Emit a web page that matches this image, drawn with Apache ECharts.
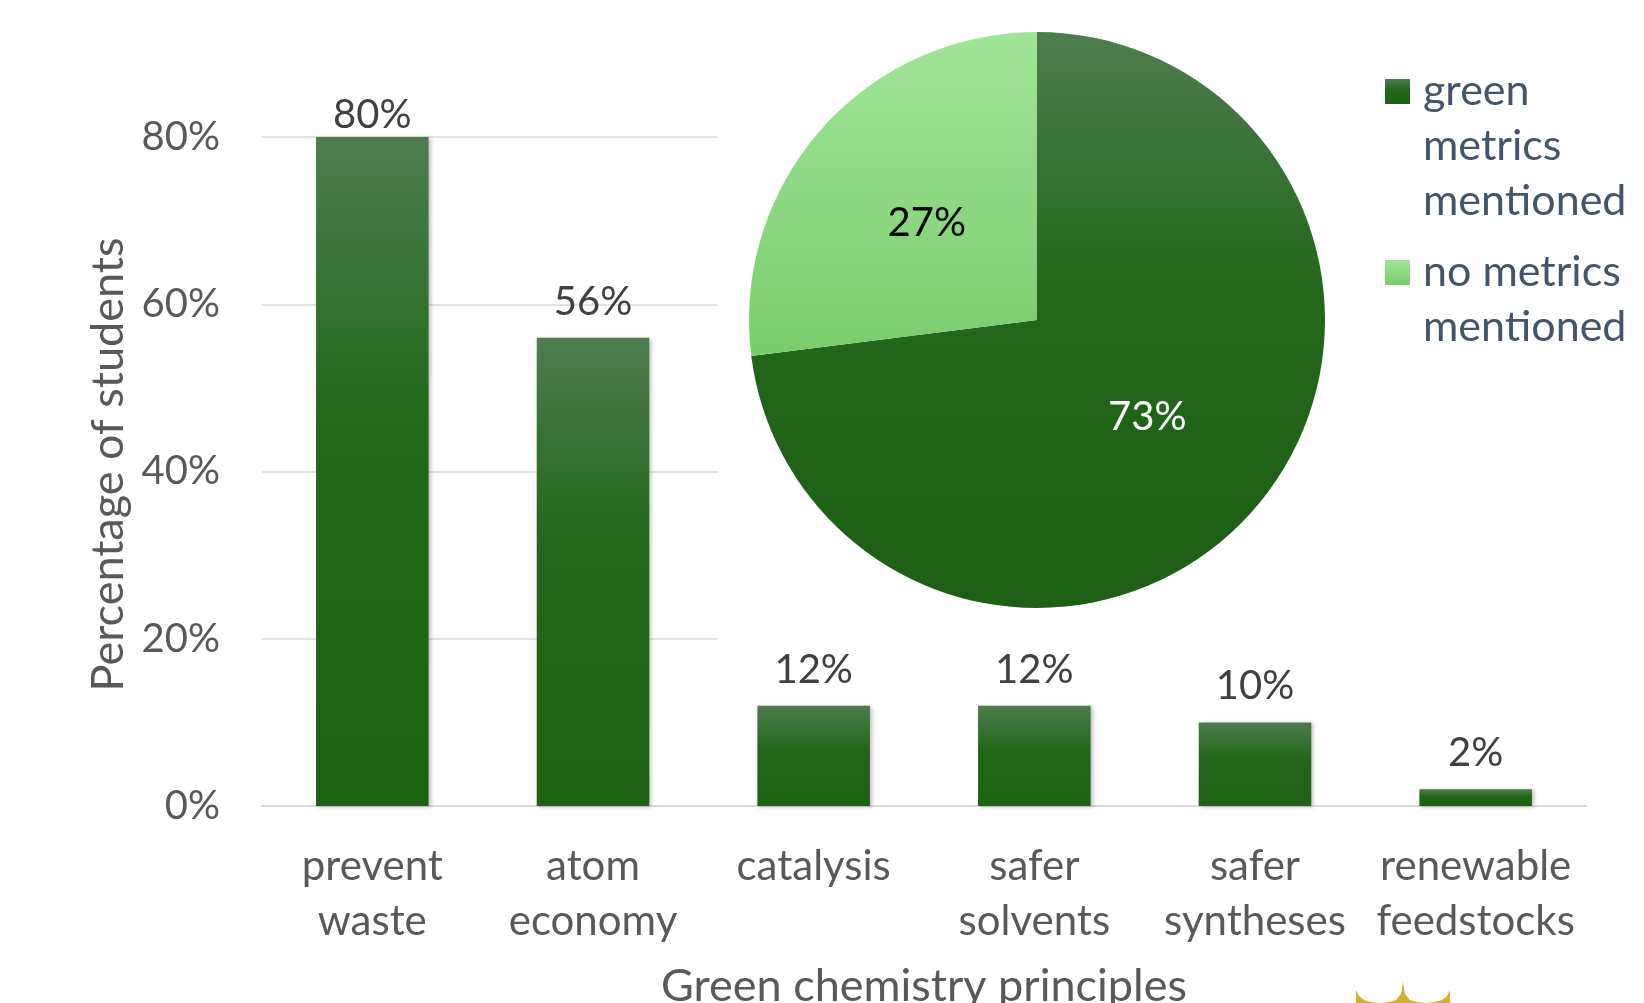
<!DOCTYPE html>
<html><head><meta charset="utf-8">
<script src="https://cdn.jsdelivr.net/npm/echarts@6/dist/echarts.min.js"></script>
<style>html,body{margin:0;padding:0;background:#fff}#c{width:1644px;height:1003px}</style>
</head><body><div id="c"></div>
<script>
var categories = ['prevent\nwaste', 'atom\neconomy', 'catalysis', 'safer\nsolvents', 'safer\nsyntheses', 'renewable\nfeedstocks'];
var barValues = [80, 56, 12, 12, 10, 2];
var yTicks = {min: 0, max: 80, interval: 20};
var pieNames = ['green metrics mentioned', 'no metrics mentioned'];
var pieLegendText = ['\n\ngreen\nmetrics\nmentioned', '\nno metrics\nmentioned'];
var pieValues = [73, 27];

var FONT = 'Lato';
var FS = 40;
var L = 55;
function grad(stops){return {type:'linear',x:0,y:0,x2:0,y2:1,colorStops:stops};}
var darkGrad = grad([{offset:0,color:'#4e7c4e'},{offset:0.45,color:'#22671b'},{offset:1,color:'#1d5f14'}]);
var barGrad = grad([{offset:0,color:'#4e7c4e'},{offset:0.45,color:'#21661a'},{offset:1,color:'#1e6114'}]);
var lightGrad = grad([{offset:0,color:'#a1e598'},{offset:1,color:'#7acd6d'}]);

var barData = barValues.map(function(v, i){
  // the tallest label sits tight against the plot top, as in the original
  return i === 0 ? {value: v, label: {distance: 2}} : v;
});

var chart = echarts.init(document.getElementById('c'));
chart.setOption({
  animation: false,
  textStyle: {fontFamily: FONT},
  grid: {left: 262, right: 58, top: 137, bottom: 197, containLabel: false, outerBoundsMode: 'none'},
  xAxis: {
    type: 'category', data: categories,
    axisTick: {show: false},
    axisLine: {lineStyle: {color: '#d9d9d9', width: 2}},
    axisLabel: {color: '#595959', fontSize: 42, fontFamily: FONT, lineHeight: L, margin: 33, interval: 0},
    name: 'Green chemistry principles', nameLocation: 'middle', nameGap: 158,
    nameTextStyle: {color: '#595959', fontSize: 45, fontFamily: FONT}
  },
  yAxis: {
    type: 'value', min: yTicks.min, max: yTicks.max, interval: yTicks.interval,
    axisLine: {show: false}, axisTick: {show: false},
    splitLine: {lineStyle: {color: '#d9d9d9', width: 1.5}},
    axisLabel: {formatter: '{value}%', color: '#595959', fontSize: FS, fontFamily: FONT, margin: 42},
    name: 'Percentage of students', nameLocation: 'middle', nameGap: 128,
    nameTextStyle: {color: '#595959', fontSize: 45, fontFamily: FONT, padding: [0, 0, 0, 14]}
  },
  legend: {
    orient: 'vertical', left: 1385, top: -46, padding: 0,
    itemWidth: 25, itemHeight: 25, itemGap: -39,
    icon: 'rect',
    selectedMode: false,
    formatter: function(n){return pieLegendText[pieNames.indexOf(n)];},
    textStyle: {color: '#44546a', fontSize: 43, fontFamily: FONT, lineHeight: L, padding: [0, 0, 0, 8]},
    data: pieNames.slice()
  },
  graphic: [
    {type: 'rect', z: 1, silent: true, shape: {x: 718, y: 0, width: 926, height: 700}, style: {fill: '#ffffff'}},
    {type: 'polygon', z: 1, silent: true,
     shape: {points: [[1356,990],[1359,996],[1364,1000],[1371,1002],[1380,1003],[1389,1002],[1396,1000],[1401,994],[1403,982],[1405,994],[1410,1000],[1417,1002],[1426,1003],[1435,1002],[1442,1000],[1447,996],[1450,990],[1450,1004],[1356,1004]]},
     style: {fill: '#cfb033'}}
  ],
  series: [
    {
      type: 'bar', data: barData, barWidth: '51%', z: 2,
      itemStyle: {color: barGrad, shadowColor: 'rgba(0,0,0,0.25)', shadowBlur: 4, shadowOffsetX: 2, shadowOffsetY: 1},
      label: {show: true, position: 'top', distance: 16, formatter: '{c}%', color: '#404040', fontSize: FS, fontFamily: FONT},
      emphasis: {disabled: true}
    },
    {
      type: 'pie', center: [1037, 320], radius: 288, startAngle: 90, clockwise: true, z: 3,
      emphasis: {disabled: true},
      label: {show: true, position: 'inside', formatter: '{c}%', fontSize: FS, fontFamily: FONT},
      labelLine: {show: false},
      data: [
        {name: pieNames[0], value: pieValues[0], itemStyle: {color: darkGrad}, label: {color: '#ffffff'}},
        {name: pieNames[1], value: pieValues[1], itemStyle: {color: lightGrad}, label: {color: '#000000'}}
      ]
    }
  ]
});
</script></body></html>
